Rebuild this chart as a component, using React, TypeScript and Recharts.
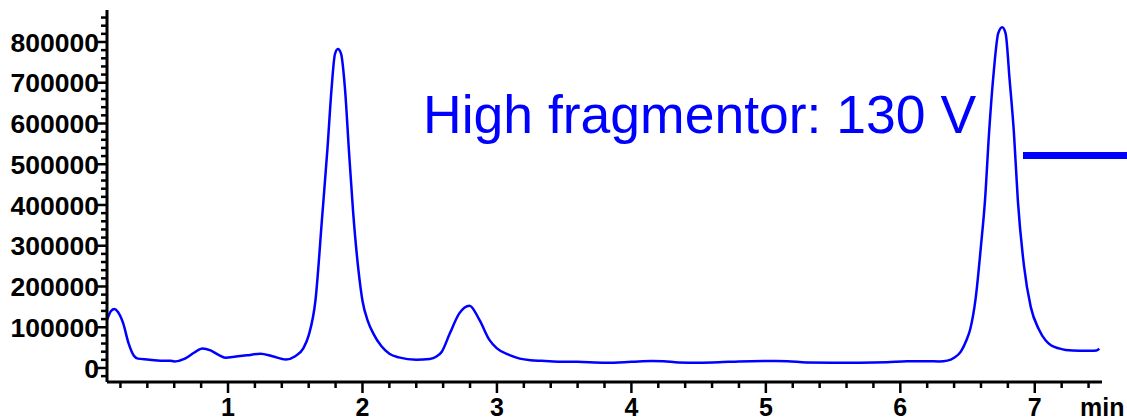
import React from 'react';
import { LineChart, Line, XAxis, YAxis } from 'recharts';

const times = [
  0.1, 0.13, 0.155, 0.18, 0.22, 0.26, 0.3, 0.33, 0.4, 0.5, 0.57, 0.6, 0.68, 0.75, 0.81, 0.87, 0.93, 0.98,
  1.06, 1.14, 1.24, 1.33, 1.43, 1.5, 1.56, 1.6, 1.65, 1.7, 1.74, 1.77, 1.795, 1.817, 1.84, 1.87, 1.9, 1.93,
  1.97, 2.0, 2.04, 2.08, 2.14, 2.2, 2.27, 2.4, 2.5, 2.55, 2.59, 2.65, 2.72, 2.796, 2.87, 2.944, 3.0, 3.09,
  3.17, 3.25, 3.33, 3.46, 3.6, 3.81, 4.0, 4.15, 4.24, 4.35, 4.5, 4.65, 4.8, 5.0, 5.16, 5.3, 5.5, 5.7, 5.9,
  6.05, 6.2, 6.29, 6.35, 6.4, 6.45, 6.49, 6.52, 6.56, 6.6, 6.63, 6.66, 6.696, 6.728, 6.758, 6.783, 6.813,
  6.845, 6.874, 6.92, 6.97, 7.03, 7.08, 7.12, 7.18, 7.23, 7.33, 7.42, 7.46, 7.48,
];

const intensity = [
  118000, 140000, 145000, 138000, 110000, 61000, 30000, 23000, 21000, 18000, 18000, 16000, 23000, 38000,
  48000, 43000, 32000, 25000, 28000, 31000, 35000, 29000, 21000, 29000, 48000, 80000, 165000, 370000,
  540000, 685000, 770000, 783000, 772000, 685000, 530000, 385000, 240000, 165000, 115000, 85000, 54000,
  35000, 26000, 20000, 22000, 28000, 40000, 85000, 134000, 153000, 118000, 69000, 48000, 32000, 23000,
  19000, 17500, 15500, 15000, 13000, 15000, 17000, 16500, 13500, 13000, 14000, 16000, 17000, 16500, 13500,
  13000, 13000, 14000, 16500, 16500, 16000, 18000, 25000, 40000, 67000, 95000, 170000, 300000, 412000,
  577000, 731000, 821000, 836000, 821000, 707000, 577000, 412000, 250000, 150000, 95000, 68000, 56000,
  48000, 44000, 42000, 42000, 43000, 47000,
];

const xMajorTicks = [1, 2, 3, 4, 5, 6, 7];
const yMajorTicks = [0, 100000, 200000, 300000, 400000, 500000, 600000, 700000, 800000];
const xMinorTicks = Array.from({ length: 37 }, (_, i) => Math.round((i + 1) * 2) / 10);
const yMinorTicks = Array.from({ length: 45 }, (_, i) => -20000 + i * 20000);

const title = 'High fragmentor: 130 V';
const xUnit = 'min';

const data = times.map((t, i) => ({ t, v: intensity[i] }));

const FONT = "'Liberation Sans', Arial, Helvetica, sans-serif";

const XTick = (props: any) => {
  const { x, y, payload } = props;
  const v = payload.value;
  const major = xMajorTicks.some((m) => Math.abs(m - v) < 1e-6);
  return (
    <g>
      <line x1={x} x2={x} y1={y} y2={y + (major ? 11 : 6)} stroke="#000" strokeWidth={2.5} />
      {major && (
        <text x={x} y={y + 34} textAnchor="middle" fontFamily={FONT} fontWeight="bold" fontSize={25} fill="#000">
          {v}
        </text>
      )}
    </g>
  );
};

const YTick = (props: any) => {
  const { x, y, payload } = props;
  const v = payload.value;
  const major = yMajorTicks.some((m) => Math.abs(m - v) < 1e-6);
  return (
    <g>
      <line x1={x - (major ? 10 : 6)} x2={x} y1={y} y2={y} stroke="#000" strokeWidth={2.5} />
      {major && (
        <text x={x - 8} y={y} dy="0.36em" textAnchor="end" fontFamily={FONT} fontWeight="bold" fontSize={26.5} fill="#000">
          {v}
        </text>
      )}
    </g>
  );
};

export default function App() {
  return (
    <div style={{ position: 'absolute', left: 0, top: 0, width: 1127, height: 420, background: '#fff' }}>
      <LineChart width={1127} height={420} data={data} margin={{ top: 10, right: 25, left: 0, bottom: 0 }}>
        <XAxis
          dataKey="t"
          type="number"
          domain={[0.1, 7.5]}
          ticks={xMinorTicks}
          interval={0}
          tick={<XTick />}
          tickLine={false}
          tickSize={0}
          tickMargin={0}
          height={38}
          axisLine={{ stroke: '#000', strokeWidth: 3 }}
          allowDataOverflow
        />
        <YAxis
          type="number"
          domain={[-34400, 878500]}
          ticks={yMinorTicks}
          interval={0}
          tick={<YTick />}
          tickLine={false}
          tickSize={0}
          tickMargin={0}
          width={107}
          axisLine={{ stroke: '#000', strokeWidth: 3 }}
          allowDataOverflow
        />
        <Line
          type="monotone"
          dataKey="v"
          stroke="#0000FF"
          strokeWidth={2.5}
          dot={false}
          isAnimationActive={false}
        />
      </LineChart>
      <svg
        width={1127}
        height={420}
        style={{ position: 'absolute', left: 0, top: 0, pointerEvents: 'none' }}
      >
        <text x={423} y={133} fontFamily={FONT} fontSize={53.5} fill="#0000FF">
          {title}
        </text>
        <rect x={1023} y={152} width={104} height={7} fill="#0000FF" />
        <text x={1080} y={416} fontFamily={FONT} fontWeight="bold" fontSize={25} fill="#000">
          {xUnit}
        </text>
      </svg>
    </div>
  );
}
